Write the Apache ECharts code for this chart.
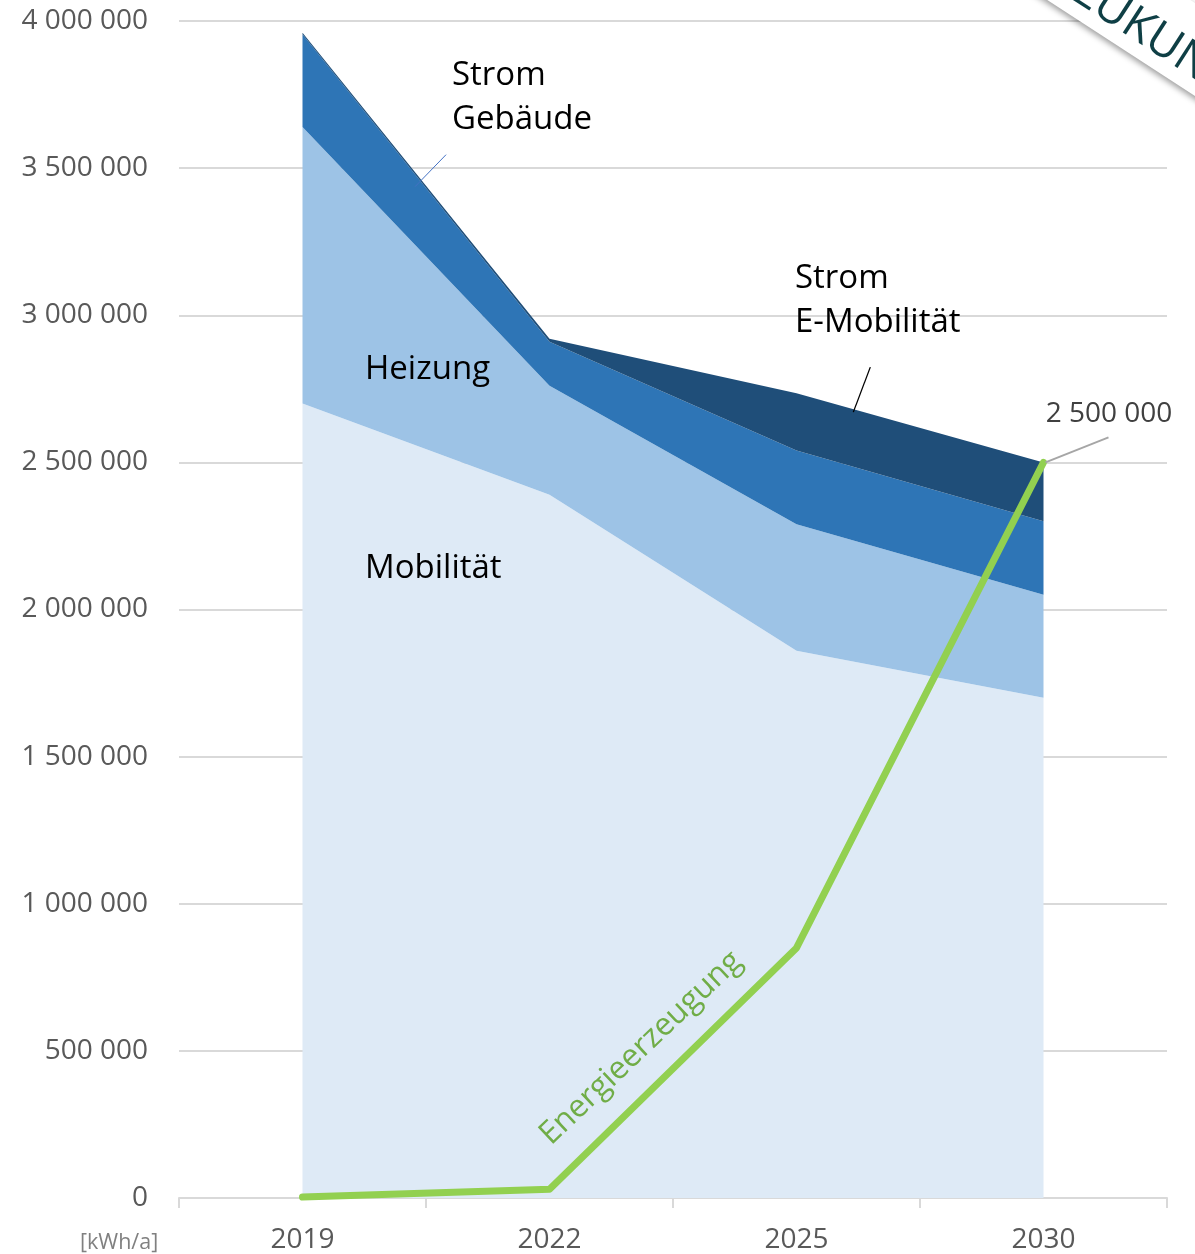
<!DOCTYPE html>
<html><head><meta charset="utf-8">
<script src="https://cdn.jsdelivr.net/npm/echarts@6/dist/echarts.min.js"></script>
<style>html,body{margin:0;padding:0;background:#fff}#c{width:1195px;height:1254px}</style>
</head><body><div id="c"></div>
<script>
var categories = ['2019', '2022', '2025', '2030'];
var mobilitaet = [2700000, 2390000, 1860000, 1700000];
var heizung = [940000, 370000, 430000, 350000];
var stromGebaeude = [315000, 150000, 250000, 250000];
var stromEMob = [5000, 10000, 195000, 200000];
var energieerzeugung = [3000, 30000, 850000, 2500000];
var yTicks = { min: 0, max: 4000000, interval: 500000 };

function fmt(v) { return String(v).replace(/\B(?=(\d{3})+(?!\d))/g, ' '); }

var chart = echarts.init(document.getElementById('c'), null, { renderer: 'canvas' });
var FONT = '"Open Sans", sans-serif';
function area(name, data, color) {
  return { name: name, type: 'line', stack: 'total', data: data, symbol: 'none',
    lineStyle: { width: 0 }, areaStyle: { color: color, opacity: 1 }, itemStyle: { color: color }, z: 2 };
}
chart.setOption({
  animation: false,
  grid: { left: 179, right: 28, top: 21, bottom: 56 },
  xAxis: { type: 'category', data: categories, boundaryGap: true,
    axisLine: { lineStyle: { color: '#d9d9d9', width: 2 } },
    axisTick: { show: true, length: 10, lineStyle: { color: '#d9d9d9', width: 2 } },
    axisLabel: { color: '#595959', fontSize: 28, fontFamily: FONT, margin: 28 } },
  yAxis: { type: 'value', min: yTicks.min, max: yTicks.max, interval: yTicks.interval,
    axisLine: { show: false }, axisTick: { show: false },
    splitLine: { lineStyle: { color: '#d9d9d9', width: 2 } },
    axisLabel: { color: '#595959', fontSize: 28, fontFamily: FONT, margin: 31, formatter: fmt } },
  series: [
    area('Mobilität', mobilitaet, '#deeaf6'),
    area('Heizung', heizung, '#9dc3e6'),
    area('Strom Gebäude', stromGebaeude, '#2e75b6'),
    area('Strom E-Mobilität', stromEMob, '#1f4e79'),
    { name: 'Energieerzeugung', type: 'line', data: energieerzeugung, symbol: 'none', z: 5,
      lineStyle: { color: '#92d050', width: 7, cap: 'round', join: 'round' }, itemStyle: { color: '#92d050' } }
  ]
});

var last = chart.convertToPixel({ xAxisIndex: 0, yAxisIndex: 0 }, [3, energieerzeugung[3]]);
var topSum = function (i) { return mobilitaet[i] + heizung[i] + stromGebaeude[i] + stromEMob[i]; };
var p2025 = chart.convertToPixel({ xAxisIndex: 0, yAxisIndex: 0 }, [2, topSum(2)]);
var p2030 = chart.convertToPixel({ xAxisIndex: 0, yAxisIndex: 0 }, [3, topSum(3)]);
var p19a = chart.convertToPixel({ xAxisIndex: 0, yAxisIndex: 0 }, [0, topSum(0)]);
var p22a = chart.convertToPixel({ xAxisIndex: 0, yAxisIndex: 0 }, [1, topSum(1)]);
var t = 0.23;
var eMobPt = [p2025[0] + (p2030[0] - p2025[0]) * t, p2025[1] + (p2030[1] - p2025[1]) * t];
var tg = 0.48;
var gebPt = [p19a[0] + (p22a[0] - p19a[0]) * tg, p19a[1] + (p22a[1] - p19a[1]) * tg];

var txt = function (x, y, s, opt) {
  opt = opt || {};
  return { type: 'text', x: x, y: y, z: 20, rotation: opt.rot || 0,
    style: { text: s, fill: opt.color || '#000', font: (opt.size || 33) + 'px ' + FONT,
      textAlign: opt.align || 'left', textVerticalAlign: opt.valign || 'top', lineHeight: opt.lh || 44 } };
};
chart.setOption({ graphic: [
  txt(452, 54, 'Strom\nGebäude'),
  txt(365, 348, 'Heizung'),
  txt(365, 547, 'Mobilität'),
  txt(795, 257, 'Strom\nE-Mobilität'),
  txt(1109, 414, fmt(energieerzeugung[3]), { color: '#404040', size: 28, align: 'center', valign: 'middle' }),
  { type: 'line', z: 20, shape: { x1: gebPt[0] - 6, y1: gebPt[1] + 7, x2: gebPt[0] + 25, y2: gebPt[1] - 25 }, style: { stroke: '#4472c4', lineWidth: 1 } },
  { type: 'line', z: 20, shape: { x1: eMobPt[0], y1: eMobPt[1] + 3, x2: eMobPt[0] + 17, y2: eMobPt[1] - 42 }, style: { stroke: '#000', lineWidth: 1.3 } },
  { type: 'line', z: 20, shape: { x1: last[0] + 2, y1: last[1], x2: last[0] + 65, y2: last[1] - 25 }, style: { stroke: '#a6a6a6', lineWidth: 2 } },
  txt(641, 1048, 'Energieerzeugung', { color: '#70ad47', size: 31.5, align: 'center', valign: 'middle', rot: Math.PI * 43.5 / 180 }),
  txt(80, 1243, '[kWh/a]', { color: '#808080', size: 21.5, valign: 'middle' }),
  { type: 'group', x: 1086, y: -44, rotation: -33 * Math.PI / 180, z: 30, children: [
    { type: 'rect', shape: { x: -40, y: -20, width: 280, height: 78 },
      style: { fill: '#ffffff', shadowBlur: 6, shadowColor: 'rgba(0,0,0,0.4)', shadowOffsetY: 3 } },
    { type: 'text', x: 8, y: 8, style: { text: 'ZUKUNFT', fill: '#0f3f45', font: '500 46px ' + FONT, textVerticalAlign: 'top' } }
  ] }
] });
</script></body></html>
